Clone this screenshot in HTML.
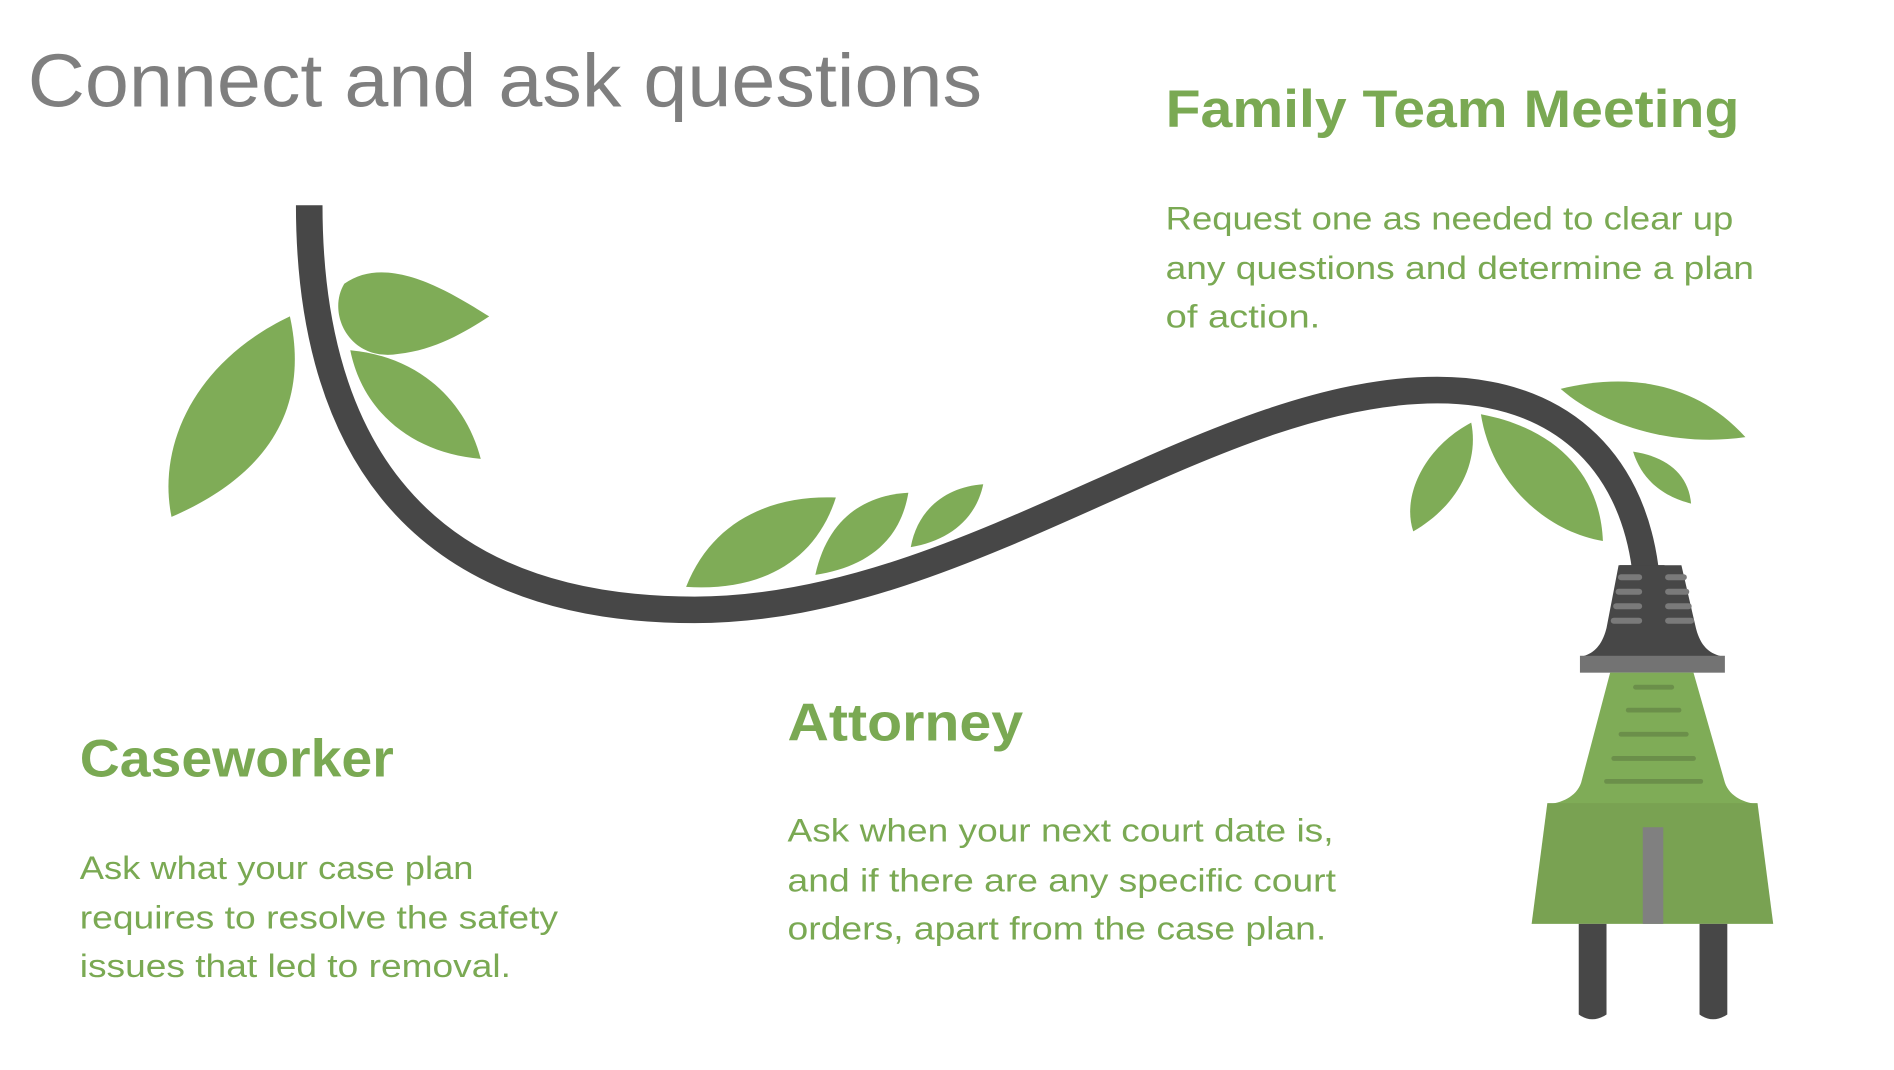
<!DOCTYPE html>
<html><head><meta charset="utf-8"><style>
html,body{margin:0;padding:0;background:#fff;}
svg{display:block;}
</style></head><body>
<svg width="1894" height="1070" viewBox="0 0 1568 886" preserveAspectRatio="none" xmlns="http://www.w3.org/2000/svg">
<rect width="1568" height="886" fill="#fff"/>
<text x="23" y="88" font-family="Liberation Sans, sans-serif" font-size="62" fill="#7f7f7f" textLength="790" lengthAdjust="spacingAndGlyphs">Connect and ask questions</text>
<g font-family="Liberation Sans, sans-serif" fill="#7aa953">
<text x="965" y="105" font-size="44" font-weight="bold" textLength="475" lengthAdjust="spacingAndGlyphs">Family Team Meeting</text>
<text x="66" y="643" font-size="44" font-weight="bold" textLength="260" lengthAdjust="spacingAndGlyphs">Caseworker</text>
<text x="652" y="613" font-size="44" font-weight="bold" textLength="195" lengthAdjust="spacingAndGlyphs">Attorney</text>
<g font-size="27">
<text x="965" y="190" textLength="470" lengthAdjust="spacingAndGlyphs">Request one as needed to clear up</text>
<text x="965" y="231" textLength="487" lengthAdjust="spacingAndGlyphs">any questions and determine a plan</text>
<text x="965" y="271" textLength="128" lengthAdjust="spacingAndGlyphs">of action.</text>
<text x="66" y="728" textLength="326" lengthAdjust="spacingAndGlyphs">Ask what your case plan</text>
<text x="66" y="769" textLength="396" lengthAdjust="spacingAndGlyphs">requires to resolve the safety</text>
<text x="66" y="809" textLength="357" lengthAdjust="spacingAndGlyphs">issues that led to removal.</text>
<text x="652" y="697" textLength="452" lengthAdjust="spacingAndGlyphs">Ask when your next court date is,</text>
<text x="652" y="738" textLength="454" lengthAdjust="spacingAndGlyphs">and if there are any specific court</text>
<text x="652" y="778" textLength="446" lengthAdjust="spacingAndGlyphs">orders, apart from the case plan.</text>
</g></g>
<path d="M256,170 C256,350 330,505 575,505 C800,505 1000,323 1190,323 C1290,323 1350,380 1362,470" fill="none" stroke="#474747" stroke-width="22"/>
<g fill="#7fac57">
<path d="M240,262 C160,300 130,370 142,428 C230,390 255,330 240,262Z"/>
<path d="M405,262 C370,240 320,210 285,235 C270,260 290,300 330,293 C360,290 385,275 405,262Z"/>
<path d="M290,290 C300,340 340,375 398,380 C385,330 345,295 290,290Z"/>
<path d="M568,486 C590,430 640,410 692,412 C675,465 630,490 568,486Z"/>
<path d="M675,476 C685,430 715,410 752,408 C745,450 715,470 675,476Z"/>
<path d="M754,453 C760,420 785,403 814,401 C808,430 785,448 754,453Z"/>
<path d="M1218,350 C1180,370 1160,410 1170,440 C1205,420 1225,385 1218,350Z"/>
<path d="M1226,343 C1235,400 1280,440 1327,448 C1325,395 1290,355 1226,343Z"/>
<path d="M1292,322 C1340,310 1400,312 1445,362 C1390,370 1330,355 1292,322Z"/>
<path d="M1352,374 C1360,400 1380,412 1400,417 C1398,393 1380,378 1352,374Z"/>
</g>
<!-- plug -->
<path d="M1341,468 L1378,468 L1392,520 C1396,535 1410,542 1428,544 L1308,544 C1326,542 1340,535 1344,520 Z" fill="#474747"/>
<path d="M1341,468 L1378,468 L1394,522 C1398,536 1412,542 1428,544 L1308,544 C1324,542 1338,536 1342,522 L1341,468Z" fill="#474747"/>
<path d="M1340,468 L1330,520 C1326,536 1318,542 1308,544 L1428,544 C1416,542 1408,536 1404,520 L1392,468Z" fill="#474747"/>
<g stroke="#7a7a7a" stroke-width="5" stroke-linecap="round">
<line x1="1342" y1="478" x2="1357" y2="478"/><line x1="1340" y1="490" x2="1357" y2="490"/>
<line x1="1338" y1="502" x2="1357" y2="502"/><line x1="1336" y1="514" x2="1357" y2="514"/>
<line x1="1381" y1="478" x2="1394" y2="478"/><line x1="1381" y1="490" x2="1396" y2="490"/>
<line x1="1381" y1="502" x2="1398" y2="502"/><line x1="1381" y1="514" x2="1400" y2="514"/>
</g>
<rect x="1308" y="543" width="120" height="14" fill="#737373"/>
<path d="M1333,557 L1402,557 L1428,648 C1432,660 1445,665 1456,666 L1281,666 C1292,665 1305,660 1309,648 Z" fill="#7fac57"/>
<g stroke="#6b8f4a" stroke-width="4" stroke-linecap="round">
<line x1="1354" y1="569" x2="1384" y2="569"/><line x1="1348" y1="588" x2="1390" y2="588"/>
<line x1="1342" y1="608" x2="1396" y2="608"/><line x1="1336" y1="628" x2="1402" y2="628"/>
<line x1="1330" y1="647" x2="1408" y2="647"/>
</g>
<path d="M1281,665 L1455,665 L1468,765 L1268,765 Z" fill="#79a252"/>
<rect x="1360" y="685" width="17" height="80" fill="#808080"/>
<path d="M1307,765 L1330,765 L1330,840 Q1318,848 1307,840Z" fill="#474747"/>
<path d="M1407,765 L1430,765 L1430,840 Q1418,848 1407,840Z" fill="#474747"/>
</svg>
</body></html>
